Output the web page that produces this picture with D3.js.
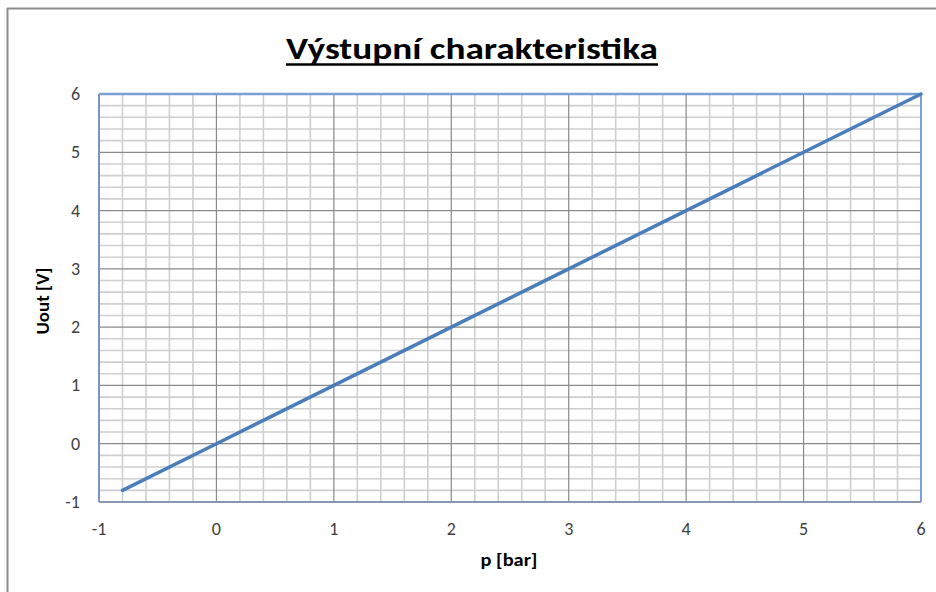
<!DOCTYPE html>
<html><head><meta charset="utf-8">
<script src="https://cdn.jsdelivr.net/npm/d3@7"></script>
<style>body{margin:0;background:#fff}svg{display:block}</style>
</head><body>
<script>
const title = "Výstupní charakteristika";
const xTitle = "p [bar]";
const yTitle = "Uout [V]";
const xTicks = [-1,0,1,2,3,4,5,6];
const yTicks = [-1,0,1,2,3,4,5,6];
const pValues = [-0.8, 0, 1, 2, 3, 4, 5, 6];
const uValues = [-0.8, 0, 1, 2, 3, 4, 5, 6];

const W = 936, H = 592;
const m = {l:99, r:15, t:94, b:90};
const svg = d3.select("body").append("svg").attr("width",W).attr("height",H);
const font = "Calibri, Carlito, 'Open Sans', 'Liberation Sans', sans-serif";

// outer chart border
svg.append("line").attr("x1",7).attr("x2",W).attr("y1",8.5).attr("y2",8.5).attr("stroke","#8c8c8c").attr("stroke-width",2);
svg.append("line").attr("x1",7.5).attr("x2",7.5).attr("y1",8).attr("y2",H).attr("stroke","#8c8c8c").attr("stroke-width",2);

const x = d3.scaleLinear().domain([-1,6]).range([m.l, W - m.r]);
const y = d3.scaleLinear().domain([-1,6]).range([H - m.b, m.t]);

// minor grid
const minor = d3.range(-1, 6.0001, 0.2).map(v => Math.round(v*10)/10).filter(v => Math.abs(v - Math.round(v)) > 1e-6);
const g = svg.append("g");
g.selectAll(".mx").data(minor).join("line")
  .attr("x1", d=>x(d)).attr("x2", d=>x(d)).attr("y1", y(-1)).attr("y2", y(6))
  .attr("stroke","#cfcfcf").attr("stroke-width",1.6);
g.selectAll(".my").data(minor).join("line")
  .attr("y1", d=>y(d)).attr("y2", d=>y(d)).attr("x1", x(-1)).attr("x2", x(6))
  .attr("stroke","#cfcfcf").attr("stroke-width",1.6);
// major grid
g.selectAll(".Mx").data(xTicks).join("line")
  .attr("x1", d=>x(d)).attr("x2", d=>x(d)).attr("y1", y(-1)).attr("y2", y(6))
  .attr("stroke","#8a8a8a").attr("stroke-width",1.2);
g.selectAll(".My").data(yTicks).join("line")
  .attr("y1", d=>y(d)).attr("y2", d=>y(d)).attr("x1", x(-1)).attr("x2", x(6))
  .attr("stroke","#8a8a8a").attr("stroke-width",1.2);

// plot area border
svg.append("line").attr("x1",x(-1)).attr("x2",x(6)).attr("y1",y(6)).attr("y2",y(6)).attr("stroke","#7aa0d6").attr("stroke-width",2.5);
svg.append("line").attr("x1",x(6)).attr("x2",x(6)).attr("y1",y(6)).attr("y2",y(-1)).attr("stroke","#7aa0d6").attr("stroke-width",2);
svg.append("line").attr("x1",x(-1)).attr("x2",x(-1)).attr("y1",y(6)).attr("y2",y(-1)).attr("stroke","#7a94c0").attr("stroke-width",2);
svg.append("line").attr("x1",x(-1)).attr("x2",x(6)).attr("y1",y(-1)).attr("y2",y(-1)).attr("stroke","#8797b3").attr("stroke-width",2);

// data line
const line = d3.line().x(d=>x(d[0])).y(d=>y(d[1]));
svg.append("path").datum(pValues.map((p,i)=>[p,uValues[i]]))
  .attr("d", line).attr("fill","none").attr("stroke","#4a7ebb").attr("stroke-width",3.5).attr("stroke-linecap","round");

// tick labels
svg.append("g").selectAll("text").data(xTicks).join("text")
  .attr("x", d=>x(d)).attr("y", 535).attr("text-anchor","middle")
  .attr("font-family",font).attr("font-size",18).attr("fill","#404040").text(d=>d);
svg.append("g").selectAll("text").data(yTicks).join("text")
  .attr("x", 80).attr("y", d=>y(d)+6).attr("text-anchor","end")
  .attr("font-family",font).attr("font-size",18).attr("fill","#404040").text(d=>d);

// title
svg.append("text").attr("x",472).attr("y",59).attr("text-anchor","middle")
  .attr("font-family",font).attr("font-weight","bold").attr("font-size",31)
  .attr("textLength",372).attr("lengthAdjust","spacingAndGlyphs")
  .attr("fill","#000").text(title);
svg.append("line").attr("x1",286).attr("x2",658).attr("y1",64.5).attr("y2",64.5).attr("stroke","#000").attr("stroke-width",2.5);

// axis titles
svg.append("text").attr("x",509).attr("y",566).attr("text-anchor","middle")
  .attr("font-family",font).attr("font-weight","bold").attr("font-size",19)
  .attr("textLength",57).attr("lengthAdjust","spacingAndGlyphs")
  .attr("fill","#000").text(xTitle);
svg.append("text").attr("transform","translate(49,301) rotate(-90)").attr("text-anchor","middle")
  .attr("font-family",font).attr("font-weight","bold").attr("font-size",19)
  .attr("textLength",67).attr("lengthAdjust","spacingAndGlyphs")
  .attr("fill","#000").text(yTitle);
</script>
</body></html>
